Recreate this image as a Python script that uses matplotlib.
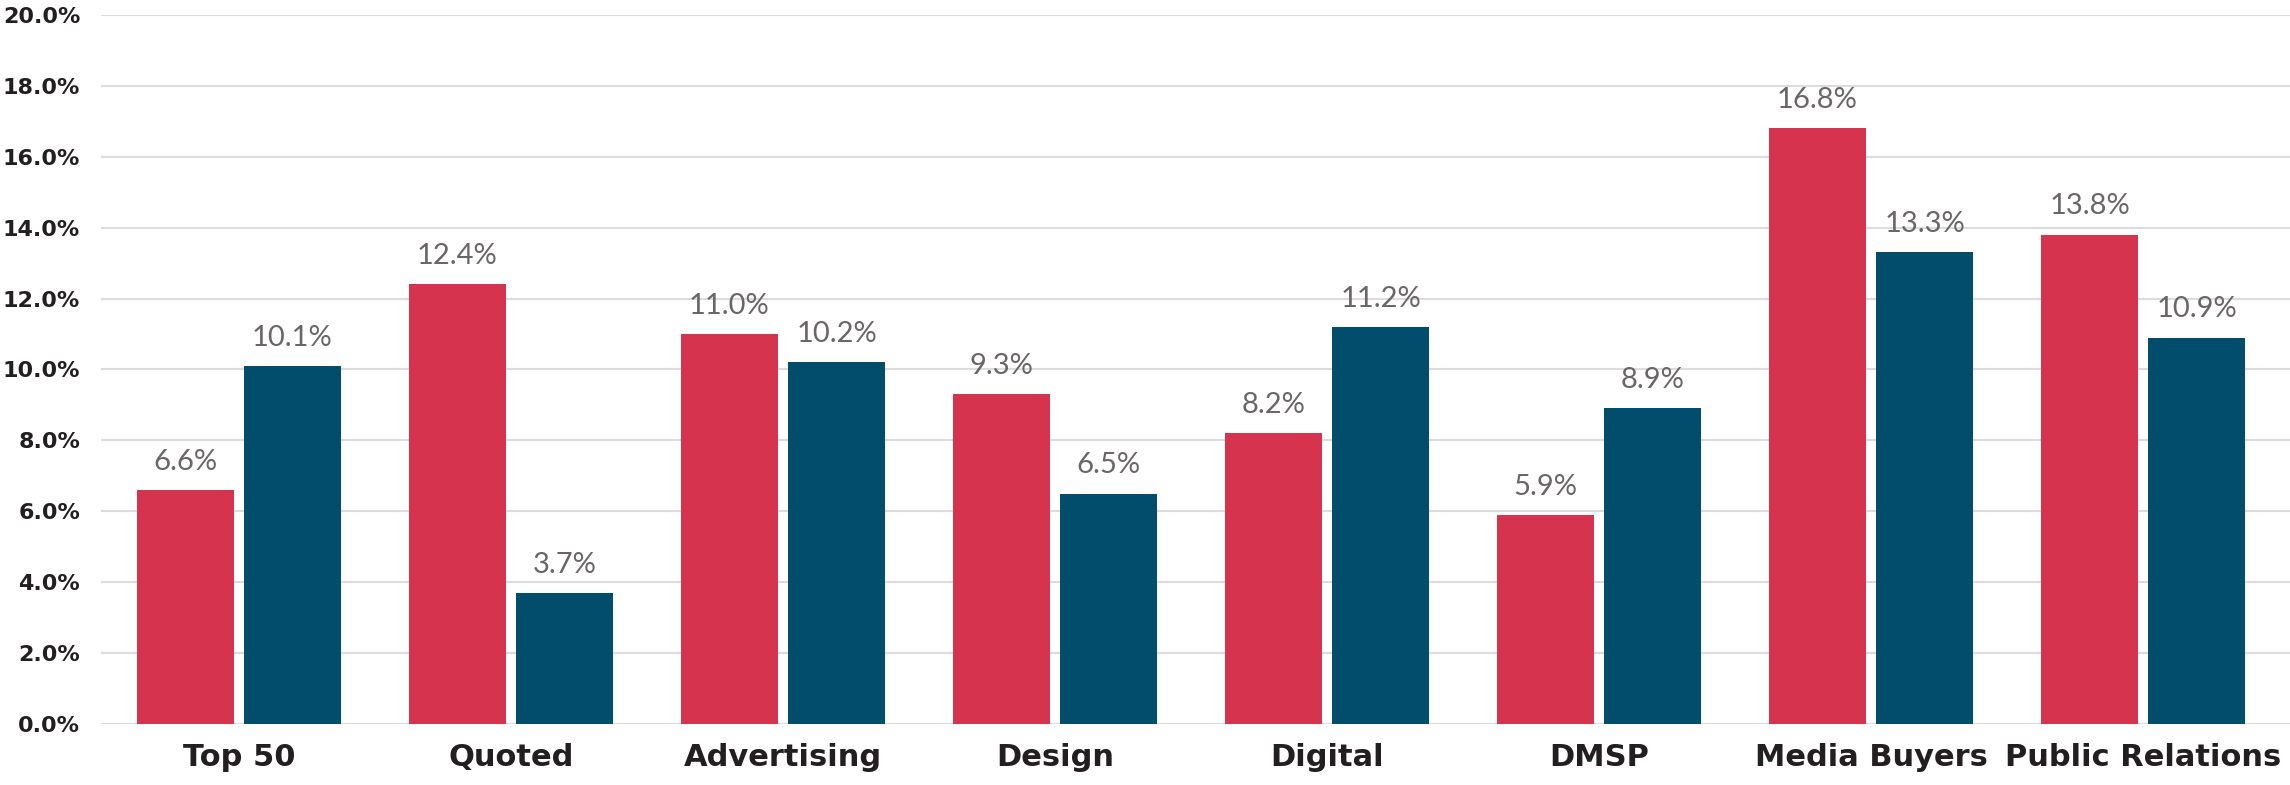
import matplotlib
matplotlib.use("Agg")
import matplotlib.pyplot as plt
import numpy as np
from matplotlib.ticker import FuncFormatter

categories = ["Top 50", "Quoted", "Advertising", "Design", "Digital",
              "DMSP", "Media Buyers", "Public Relations"]
series_a = [6.6, 12.4, 11.0, 9.3, 8.2, 5.9, 16.8, 13.8]
series_b = [10.1, 3.7, 10.2, 6.5, 11.2, 8.9, 13.3, 10.9]

RED = "#d6334f"
BLUE = "#034d6c"

fig = plt.figure(figsize=(22.9, 7.85), dpi=100)
ax = fig.add_axes([0.0441, 0.0777, 0.9559, 0.9033])

x = np.arange(len(categories))
w = 0.357
off = 0.197
bars_a = ax.bar(x - off, series_a, w, color=RED, zorder=2)
bars_b = ax.bar(x + off, series_b, w, color=BLUE, zorder=2)

for bars in (bars_a, bars_b):
    ax.bar_label(bars, labels=[f"{v:.1f}%" for v in bars.datavalues],
                 padding=11, fontsize=21, color="#6a6567",
                 fontfamily=["Lato", "DejaVu Sans"], fontweight="normal")

ax.set_xlim(-0.507, 7.54)
ax.set_ylim(0, 20)
ax.set_yticks(np.arange(0, 20.1, 2))
ax.yaxis.set_major_formatter(FuncFormatter(lambda v, _: f"{v:.1f}%"))
ax.yaxis.grid(True, color="#dcdcdc", linewidth=1.5, zorder=0)
ax.set_axisbelow(True)

ax.set_xticks(x)
ax.set_xticklabels(categories)
ax.tick_params(axis="x", length=0, pad=14, labelsize=22, colors="#231f20")
ax.tick_params(axis="y", length=0, pad=15, labelsize=16, colors="#231f20")
for lab in ax.get_xticklabels() + ax.get_yticklabels():
    lab.set_fontweight("bold")

for s in ax.spines.values():
    s.set_visible(False)

fig.savefig("out.png", dpi=100)
